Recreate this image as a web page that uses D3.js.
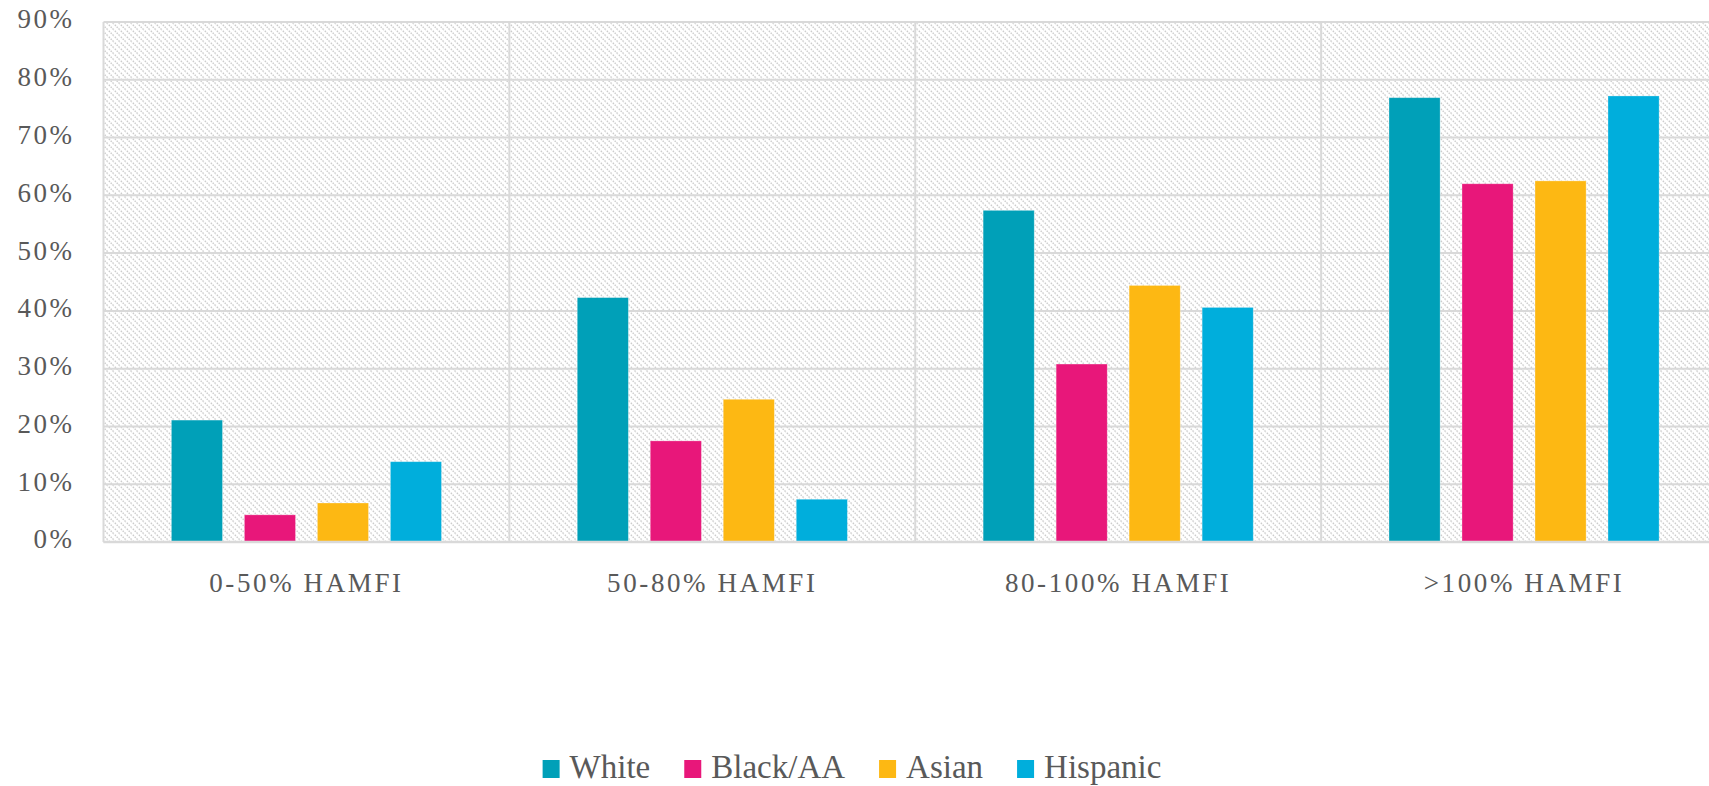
<!DOCTYPE html>
<html><head><meta charset="utf-8">
<script src="https://cdn.jsdelivr.net/npm/d3@7"></script>
<style>
html,body{margin:0;padding:0;background:#fff;overflow:hidden;}
text{font-family:"Liberation Serif","Times New Roman",serif;fill:#595959;}
</style></head>
<body><svg id="c" width="1709" height="786"></svg>
<script>
const categories = ["0-50% HAMFI","50-80% HAMFI","80-100% HAMFI",">100% HAMFI"];
const seriesNames = ["White","Black/AA","Asian","Hispanic"];
const white    = [21.1, 42.3, 57.4, 76.9];
const blackAA  = [4.7, 17.5, 30.8, 62.0];
const asian    = [6.75, 24.7, 44.4, 62.5];
const hispanic = [13.9, 7.4, 40.6, 77.2];
const yTicks = [0,10,20,30,40,50,60,70,80,90];
const colors = ["#00A0B8","#E8177A","#FDB813","#00AEDC"];

const values = [white, blackAA, asian, hispanic];
const svg = d3.select("#c");
const L = 103.5, R = 1727, T = 22, B = 542;

const defs = svg.append("defs");
const pat = defs.append("pattern").attr("id","hatch").attr("patternUnits","userSpaceOnUse")
  .attr("width",6).attr("height",6);
pat.append("rect").attr("width",6).attr("height",6).attr("fill","#fff");
pat.append("path").attr("d","M-1,-1 L7,7 M-7,-1 L1,7 M5,-1 L13,7")
  .attr("stroke","#cccccc").attr("stroke-width",1.4).attr("stroke-dasharray","1.5,1.1");

const x0 = d3.scaleBand().domain(categories).range([L,R]).padding(0);
const x1 = d3.scaleBand().domain(seriesNames).range([0,x0.bandwidth()]).paddingInner(0.3).paddingOuter(0.93);
const y = d3.scaleLinear().domain([0,90]).range([B,T]);

svg.append("rect").attr("x",L).attr("y",T).attr("width",R-L).attr("height",B-T).attr("fill","url(#hatch)");

// horizontal gridlines
svg.append("g").selectAll("line").data(yTicks).join("line")
  .attr("x1",L).attr("x2",R).attr("y1",d=>y(d)).attr("y2",d=>y(d))
  .attr("stroke","#d9d9d9").attr("stroke-width",2);
// vertical gridlines at category boundaries
svg.append("g").selectAll("line").data(categories).join("line")
  .attr("x1",d=>x0(d)).attr("x2",d=>x0(d)).attr("y1",T).attr("y2",B)
  .attr("stroke","#d9d9d9").attr("stroke-width",2);

// bars
const g = svg.append("g");
categories.forEach((c,ci)=>{
  seriesNames.forEach((s,si)=>{
    const v = values[si][ci];
    g.append("rect")
      .attr("x", x0(c)+x1(s)).attr("width", x1.bandwidth())
      .attr("y", y(v)).attr("height", y(0)-y(v))
      .attr("fill", colors[si]).attr("stroke","#ffffff").attr("stroke-opacity",0.35).attr("stroke-width",0.8);
  });
});

// bottom axis line
svg.append("line").attr("x1",L).attr("x2",R).attr("y1",B).attr("y2",B)
  .attr("stroke","#d9d9d9").attr("stroke-width",2.5);

// y axis labels
const yAxis = d3.axisLeft(y).tickValues(yTicks).tickFormat(d=>d+"%").tickSize(0).tickPadding(29);
const ya = svg.append("g").attr("transform",`translate(${L},0)`).call(yAxis);
ya.select(".domain").remove();
ya.selectAll("text").attr("font-family","Liberation Serif").attr("font-size",27)
  .attr("letter-spacing","2.5px").attr("fill","#595959").attr("dy","0.22em");

// x axis labels
const xAxis = d3.axisBottom(x0).tickSize(0).tickPadding(31);
const xa = svg.append("g").attr("transform",`translate(0,${B})`).call(xAxis);
xa.select(".domain").remove();
xa.selectAll("text").attr("font-family","Liberation Serif").attr("font-size",27)
  .attr("letter-spacing","2.6px").attr("fill","#595959");

// legend
const lg = svg.append("g");
const items = seriesNames.map((s,i)=>{
  const it = lg.append("g");
  it.append("rect").attr("x",0).attr("y",760).attr("width",17).attr("height",18).attr("fill",colors[i]);
  const t = it.append("text").attr("x",27).attr("y",778).attr("font-size",33).attr("fill","#595959").text(s);
  return {it, w: 27 + t.node().getComputedTextLength()};
});
const gap = 34;
const total = d3.sum(items, d=>d.w) + gap*(items.length-1);
let lx = 852 - total/2;
items.forEach(d=>{ d.it.attr("transform",`translate(${lx},0)`); lx += d.w + gap; });
</script></body></html>
